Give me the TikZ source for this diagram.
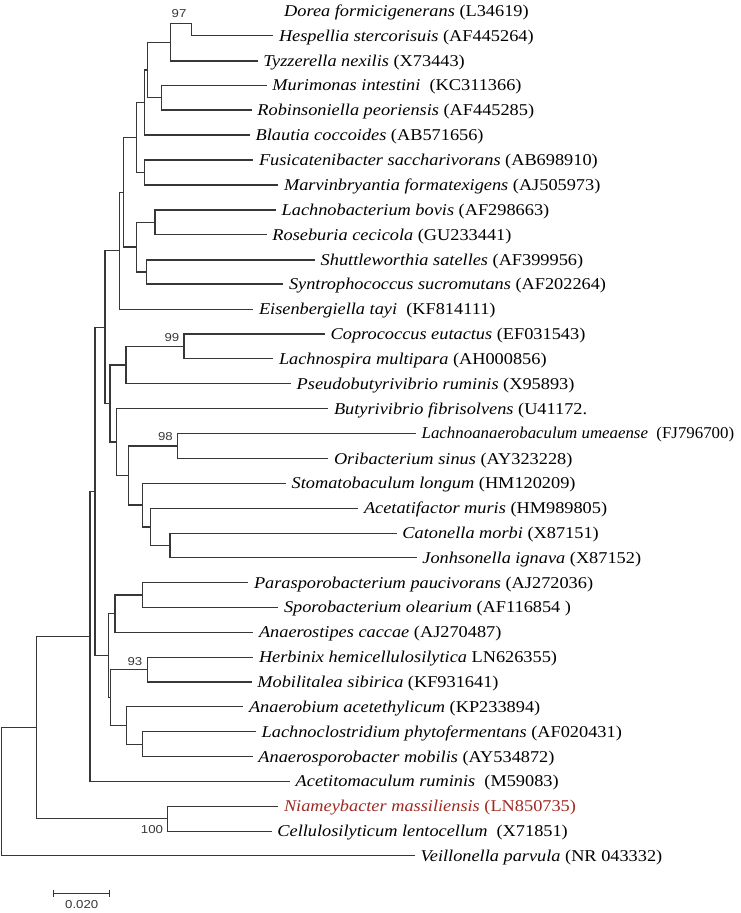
\documentclass[tikz,border=0pt]{standalone}
\usepackage{graphicx}
\usepackage{fontspec}
\setmainfont[FakeStretch=1.11]{Liberation Serif}
\newfontfamily\bootfont[FakeStretch=1.15]{Liberation Sans}
\usetikzlibrary{arrows.meta}
\definecolor{treegray}{RGB}{55,55,55}
\definecolor{newsp}{RGB}{160,40,34}
\tikzset{
  branch/.style={draw=treegray, line width=1.3pt},
  taxon/.style={anchor=base west, inner sep=0pt, xshift=5.5pt, yshift=-5.5pt,
    font=\fontsize{16.5}{18}\selectfont},
  boot/.style={inner sep=0pt, text=treegray, font=\bootfont\fontsize{11.5}{12}\selectfont},
}
\begin{document}
\begin{tikzpicture}[x=1pt,y=-1pt]
\useasboundingbox (0,0) rectangle (740,913);
% internal nodes
\coordinate (cDH) at (191.7,23.3);
\coordinate (c97) at (170.7,42.2);
\coordinate (cMR) at (161.3,97.7);
\coordinate (cA1) at (147.7,70);
\coordinate (cA) at (144.3,102.5);
\coordinate (cFM) at (144.3,172.5);
\coordinate (cB) at (136.7,137.5);
\coordinate (cLR) at (155,222.2);
\coordinate (cSS) at (146.7,272);
\coordinate (cF) at (136.7,247.1);
\coordinate (cC) at (123.3,192.3);
\coordinate (cG) at (119.3,250.8);
\coordinate (c99) at (184,346.3);
\coordinate (cJ) at (126,365);
\coordinate (c98) at (177.7,446);
\coordinate (cCJ) at (170,545.5);
\coordinate (cN) at (150.7,526.9);
\coordinate (cM) at (142.7,505.1);
\coordinate (cL) at (128.3,475.5);
\coordinate (cK) at (116.7,442.1);
\coordinate (cI) at (110,403.5);
\coordinate (cH) at (105,327.2);
\coordinate (cPS) at (142.7,595);
\coordinate (cR) at (115,613.7);
\coordinate (c93) at (147.2,669.7);
\coordinate (cLA) at (142.7,744.2);
\coordinate (cU) at (126.7,725.5);
\coordinate (cT) at (110.7,697.6);
\coordinate (cQ) at (108.3,655.7);
\coordinate (cP) at (95,491.5);
\coordinate (cO) at (90,636.4);
\coordinate (c100) at (167.2,818.8);
\coordinate (cE) at (36.7,727.6);
\coordinate (root) at (1.7,791.7);
% tips (branch ends)
\coordinate (dor) at (278.5,11);
\coordinate (hes) at (273.3,35.7);
\coordinate (tyz) at (257.7,61);
\coordinate (mur) at (266.7,85.3);
\coordinate (rob) at (251.7,110);
\coordinate (bla) at (250,135);
\coordinate (fus) at (253.3,160);
\coordinate (mar) at (278.3,185);
\coordinate (lab) at (276,210);
\coordinate (ros) at (266.7,234.5);
\coordinate (shu) at (315,260);
\coordinate (syn) at (283.3,284);
\coordinate (eis) at (253.3,309.3);
\coordinate (cop) at (325,334);
\coordinate (lsp) at (273.3,358.7);
\coordinate (pse) at (291,383.7);
\coordinate (but) at (328.3,408.7);
\coordinate (lau) at (416,433.3);
\coordinate (ori) at (328.3,458.7);
\coordinate (sto) at (286,483.3);
\coordinate (acf) at (358.3,508.3);
\coordinate (cat) at (396.7,533.3);
\coordinate (jon) at (416.7,557.7);
\coordinate (par) at (248.3,582.7);
\coordinate (spo) at (278.3,607.3);
\coordinate (ast) at (253.3,632.3);
\coordinate (her) at (253.3,657.3);
\coordinate (mob) at (251.7,682);
\coordinate (aob) at (243.3,706.7);
\coordinate (lcl) at (256,731.7);
\coordinate (asp) at (252.7,756.7);
\coordinate (acm) at (290,781.3);
\coordinate (nia) at (278.3,806.3);
\coordinate (cel) at (271.7,831.3);
\coordinate (vei) at (415,855.7);
% branches
\foreach \p/\c in {root/cE, root/vei, cE/cO, cE/c100, c100/nia, c100/cel,
    cO/cP, cO/acm, cP/cH, cP/cQ, cQ/cR, cQ/cT, cT/c93, cT/cU, cU/aob, cU/cLA,
    cLA/lcl, cLA/asp, c93/her, c93/mob, cR/cPS, cR/ast, cPS/par, cPS/spo,
    cH/cG, cH/cI, cI/cJ, cI/cK, cK/but, cK/cL, cL/c98, cL/cM, cM/sto, cM/cN,
    cN/acf, cN/cCJ, cCJ/cat, cCJ/jon, c98/lau, c98/ori, cJ/c99, cJ/pse,
    c99/cop, c99/lsp, cG/cC, cG/eis, cC/cB, cC/cF, cF/cLR, cF/cSS,
    cLR/lab, cLR/ros, cSS/shu, cSS/syn, cB/cA, cB/cFM, cFM/fus, cFM/mar,
    cA/cA1, cA/bla, cA1/c97, cA1/cMR, cMR/mur, cMR/rob, c97/cDH, c97/tyz,
    cDH/hes}
  \draw[branch] (\p) |- (\c);
% taxa
\node[taxon] (t-dor) at (dor) {\textit{Dorea formicigenerans} (L34619)};
\node[taxon] (t-hes) at (hes) {\textit{Hespellia stercorisuis} (AF445264)};
\node[taxon] (t-tyz) at (tyz) {\textit{Tyzzerella nexilis} (X73443)};
\node[taxon] (t-mur) at (mur) {\textit{Murimonas intestini}\ \ (KC311366)};
\node[taxon] (t-rob) at (rob) {\textit{Robinsoniella peoriensis} (AF445285)};
\node[taxon] (t-bla) at (bla) {\textit{Blautia coccoides} (AB571656)};
\node[taxon] (t-fus) at (fus) {\textit{Fusicatenibacter saccharivorans} (AB698910)};
\node[taxon] (t-mar) at (mar) {\textit{Marvinbryantia formatexigens} (AJ505973)};
\node[taxon] (t-lab) at (lab) {\textit{Lachnobacterium bovis} (AF298663)};
\node[taxon] (t-ros) at (ros) {\textit{Roseburia cecicola} (GU233441)};
\node[taxon] (t-shu) at (shu) {\textit{Shuttleworthia satelles} (AF399956)};
\node[taxon] (t-syn) at (syn) {\textit{Syntrophococcus sucromutans} (AF202264)};
\node[taxon] (t-eis) at (eis) {\textit{Eisenbergiella tayi}\ \ (KF814111)};
\node[taxon] (t-cop) at (cop) {\textit{Coprococcus eutactus} (EF031543)};
\node[taxon] (t-lsp) at (lsp) {\textit{Lachnospira multipara} (AH000856)};
\node[taxon] (t-pse) at (pse) {\textit{Pseudobutyrivibrio ruminis} (X95893)};
\node[taxon] (t-but) at (but) {\textit{Butyrivibrio fibrisolvens} (U41172.};
\node[taxon] (t-lau) at (lau) {\scalebox{0.92}[1]{\textit{Lachnoanaerobaculum umeaense}\ \ (FJ796700)}};
\node[taxon] (t-ori) at (ori) {\textit{Oribacterium sinus} (AY323228)};
\node[taxon] (t-sto) at (sto) {\textit{Stomatobaculum longum} (HM120209)};
\node[taxon] (t-acf) at (acf) {\textit{Acetatifactor muris} (HM989805)};
\node[taxon] (t-cat) at (cat) {\textit{Catonella morbi} (X87151)};
\node[taxon] (t-jon) at (jon) {\textit{Jonhsonella ignava} (X87152)};
\node[taxon] (t-par) at (par) {\textit{Parasporobacterium paucivorans} (AJ272036)};
\node[taxon] (t-spo) at (spo) {\textit{Sporobacterium olearium} (AF116854 )};
\node[taxon] (t-ast) at (ast) {\textit{Anaerostipes caccae} (AJ270487)};
\node[taxon] (t-her) at (her) {\textit{Herbinix hemicellulosilytica} LN626355)};
\node[taxon] (t-mob) at (mob) {\textit{Mobilitalea sibirica} (KF931641)};
\node[taxon] (t-aob) at (aob) {\textit{Anaerobium acetethylicum} (KP233894)};
\node[taxon] (t-lcl) at (lcl) {\textit{Lachnoclostridium phytofermentans} (AF020431)};
\node[taxon] (t-asp) at (asp) {\textit{Anaerosporobacter mobilis} (AY534872)};
\node[taxon] (t-acm) at (acm) {\textit{Acetitomaculum ruminis}\ \ (M59083)};
\node[taxon, text=newsp] (t-nia) at (nia) {\textit{Niameybacter massiliensis} (LN850735)};
\node[taxon] (t-cel) at (cel) {\textit{Cellulosilyticum lentocellum}\ \ (X71851)};
\node[taxon] (t-vei) at (vei) {\textit{Veillonella parvula} (NR 043332)};
% bootstrap values
\node[boot] (b97) at (179,14) {97};
\node[boot] (b99) at (172,337.5) {99};
\node[boot] (b98) at (165.5,437) {98};
\node[boot] (b93) at (135,661.5) {93};
\node[boot] (b100) at (152,830) {100};
% scale bar
\coordinate (sbL) at (52.7,893.3);
\coordinate (sbR) at (110,893.3);
\draw[branch, {Bar[width=7.5pt]}-{Bar[width=7.5pt]}] (sbL) -- (sbR);
\node[boot] (sbtext) at (81.7,905) {0.020};
\end{tikzpicture}
\end{document}
